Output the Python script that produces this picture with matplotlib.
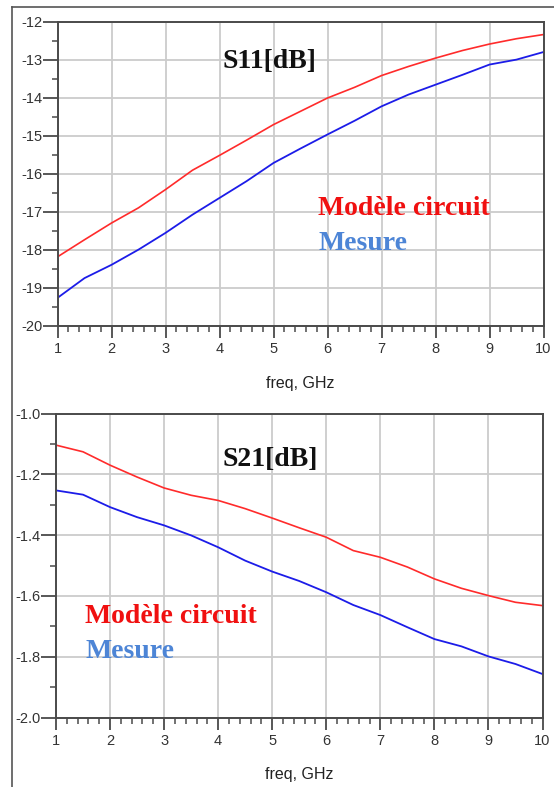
import matplotlib
matplotlib.use("Agg")
import matplotlib.pyplot as plt
from matplotlib.ticker import MultipleLocator, FormatStrFormatter
from matplotlib.lines import Line2D

plt.rcParams['axes.unicode_minus'] = False
plt.rcParams['font.family'] = ['Liberation Sans', 'DejaVu Sans']

# ---- data ----
freq = [1, 1.5, 2, 2.5, 3, 3.5, 4, 4.5, 5, 5.5, 6, 6.5, 7, 7.5, 8, 8.5, 9, 9.5, 10]

s11_model = [-18.18, -17.73, -17.29, -16.89, -16.41, -15.90, -15.51, -15.11, -14.70, -14.35,
             -14.00, -13.72, -13.41, -13.17, -12.95, -12.75, -12.58, -12.44, -12.33]
s11_meas = [-19.26, -18.74, -18.39, -17.99, -17.55, -17.07, -16.63, -16.19, -15.71, -15.33,
            -14.96, -14.60, -14.22, -13.91, -13.65, -13.39, -13.12, -12.99, -12.79]

s21_model = [-1.104, -1.126, -1.170, -1.209, -1.245, -1.269, -1.286, -1.313, -1.344, -1.376,
             -1.407, -1.451, -1.473, -1.505, -1.544, -1.575, -1.599, -1.621, -1.632]
s21_meas = [-1.253, -1.267, -1.308, -1.341, -1.368, -1.401, -1.440, -1.484, -1.520, -1.551,
            -1.588, -1.630, -1.663, -1.703, -1.742, -1.766, -1.799, -1.824, -1.857]

x_label = "freq, GHz"
titles = ["S11[dB]", "S21[dB]"]
legend_model = "Modèle circuit"
legend_meas = "Mesure"

W, H = 554, 787
fig = plt.figure(figsize=(W / 100, H / 100), dpi=100)

def px_rect(l, t, r, b):
    return [l / W, 1 - b / H, (r - l) / W, (b - t) / H]

ax1 = fig.add_axes(px_rect(57.5, 22, 543.5, 326))
ax2 = fig.add_axes(px_rect(56, 413.5, 542.5, 717.5))

RED = '#ff2b2b'
BLUE = '#1c1ce8'
SPINE = '#4a4a4a'
GRID = '#cccccc'

def style(ax, ylim, major, minor, fmt):
    ax.set_xlim(1, 10)
    ax.set_ylim(*ylim)
    ax.xaxis.set_major_locator(MultipleLocator(1))
    ax.xaxis.set_minor_locator(MultipleLocator(0.2))
    ax.yaxis.set_major_locator(MultipleLocator(major))
    ax.yaxis.set_minor_locator(MultipleLocator(minor))
    ax.yaxis.set_major_formatter(FormatStrFormatter(fmt))
    ax.grid(True, which='major', color=GRID, lw=1.3)
    ax.set_axisbelow(True)
    for s in ax.spines.values():
        s.set_color(SPINE)
        s.set_linewidth(1.4)
    ax.tick_params(axis='x', which='major', direction='out', length=8.6, width=1.3,
                   color=SPINE, labelsize=10.5, labelcolor='#333333', pad=3.0)
    ax.tick_params(axis='x', which='minor', direction='out', length=4.6, width=1.1, color=SPINE)
    ax.tick_params(axis='y', which='major', direction='out', length=10.5, width=1.3,
                   color=SPINE, labelsize=10.5, labelcolor='#333333', pad=0.5)
    ax.tick_params(axis='y', which='minor', direction='out', length=4.5, width=1.1, color=SPINE)
    ax.set_xlabel(x_label, fontsize=11.5, color='#222222', labelpad=14)

style(ax1, (-20, -12), 1, 0.5, '%d')
style(ax2, (-2.0, -1.0), 0.2, 0.1, '%.1f')

ax1.plot(freq, s11_model, color=RED, lw=1.2)
ax1.plot(freq, s11_meas, color=BLUE, lw=1.3)
ax2.plot(freq, s21_model, color=RED, lw=1.2)
ax2.plot(freq, s21_meas, color=BLUE, lw=1.3)

serif = ['Liberation Serif', 'DejaVu Serif']
TXT_BLUE = '#4d85d6'
TXT_RED = '#f01010'

def ptext(x, y, s, color):
    fig.text(x / W, 1 - y / H, s, fontsize=20, fontweight='bold', family=serif,
             color=color, ha='left', va='baseline')

ptext(223, 68, titles[0], '#111111')
ptext(318, 215, legend_model, TXT_RED)
ptext(318, 250, legend_meas, TXT_BLUE)
ptext(223, 466, titles[1], '#111111')
ptext(85, 623, legend_model, TXT_RED)
ptext(85, 658, legend_meas, TXT_BLUE)

# screenshot frame lines (top and left)
fig.add_artist(Line2D([12 / W, 1], [1 - 7 / H, 1 - 7 / H], transform=fig.transFigure,
                      color='#555555', lw=1.2))
fig.add_artist(Line2D([12 / W, 12 / W], [0, 1 - 7 / H], transform=fig.transFigure,
                      color='#555555', lw=1.2))

fig.savefig("out.png", dpi=100)
